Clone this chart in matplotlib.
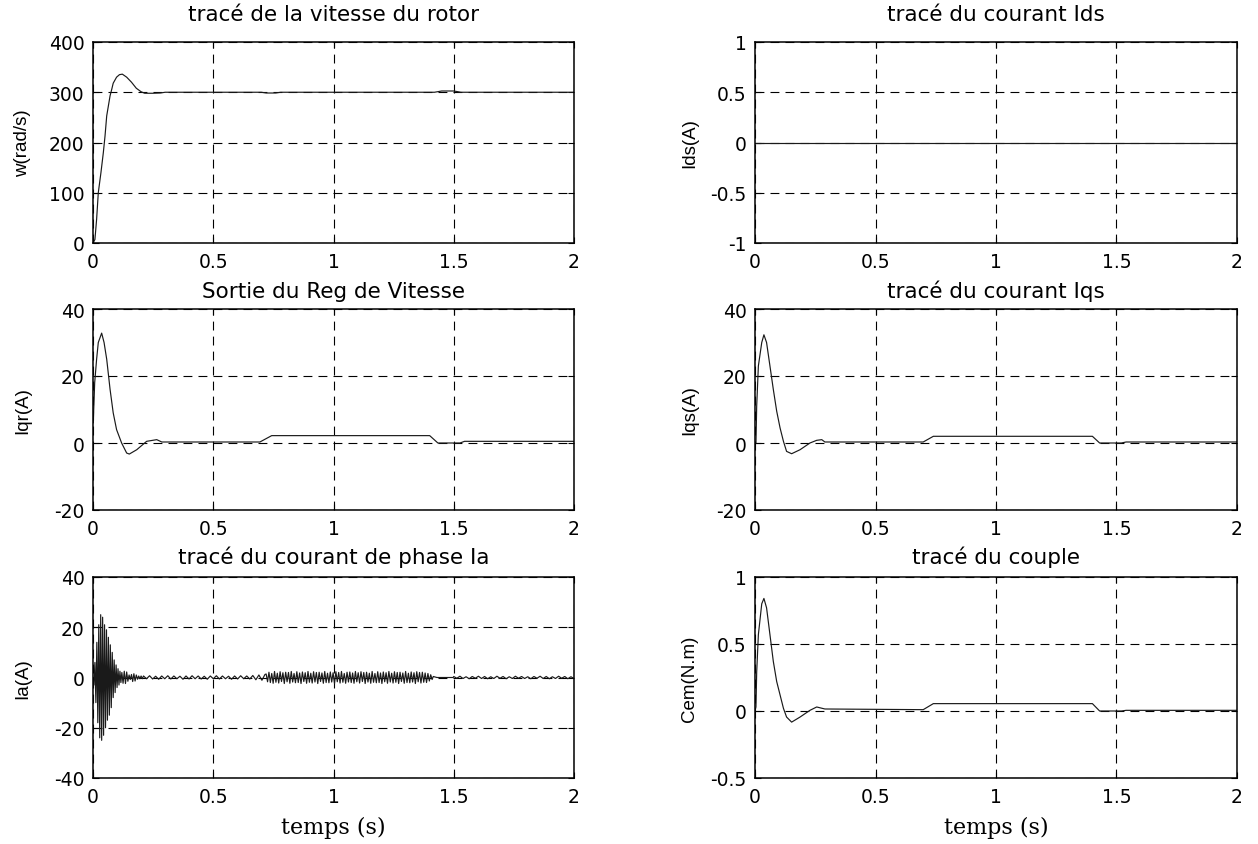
import numpy as np
import matplotlib
matplotlib.use('Agg')
import matplotlib.pyplot as plt

plt.rcParams['font.family'] = ['DejaVu Sans']
plt.rcParams['axes.unicode_minus'] = False

# ---------------- data ----------------
w_t = [0, 0.008, 0.015, 0.022, 0.033, 0.043, 0.050, 0.057, 0.064, 0.071, 0.078, 0.084,
       0.098, 0.110, 0.122, 0.140, 0.160, 0.180, 0.200, 0.215, 0.250, 0.280, 0.300,
       0.700, 0.720, 0.760, 0.780, 1.420, 1.450, 1.500, 1.530, 2.0]
w_v = [0, 7, 47, 100, 140, 180, 213, 253, 273, 293, 306, 318,
       330, 335, 336, 330, 320, 308, 301, 298, 298, 298.5, 300,
       300, 298.5, 298.5, 300, 300, 302.5, 302.5, 300, 300]

ids_t = [0, 2]
ids_v = [0, 0]

iqr_t = [0, 0.001, 0.007, 0.015, 0.022, 0.036, 0.046, 0.057, 0.071, 0.084, 0.098, 0.119,
         0.140, 0.151, 0.182, 0.223, 0.265, 0.286, 0.306, 0.694, 0.743, 1.400, 1.434,
         1.526, 1.545, 2.0]
iqr_v = [6, 6, 18, 25, 30, 32.8, 30, 25, 16, 9, 4, 0,
         -3, -3.3, -2, 0.5, 1.0, 0.3, 0.3, 0.3, 2.2, 2.2, 0,
         0, 0.5, 0.5]

iqs_t = [0, 0.004, 0.007, 0.014, 0.028, 0.037, 0.048, 0.062, 0.076, 0.090, 0.104, 0.118,
         0.131, 0.152, 0.187, 0.228, 0.256, 0.277, 0.290, 0.698, 0.740, 1.400, 1.430,
         1.520, 1.540, 2.0]
iqs_v = [0, 0, 11, 23, 30, 32.3, 30, 23, 16, 9.5, 4.5, 0.5,
         -2.5, -3.2, -2, 0, 0.8, 1.0, 0.3, 0.3, 2.0, 2.0, 0,
         0, 0.3, 0.3]

cem_t = [0, 0.004, 0.007, 0.014, 0.028, 0.037, 0.048, 0.062, 0.076, 0.090, 0.104, 0.118,
         0.131, 0.152, 0.187, 0.228, 0.256, 0.290, 0.698, 0.740, 1.400, 1.430, 1.520,
         1.540, 2.0]
cem_v = [0, 0.03, 0.29, 0.57, 0.80, 0.84, 0.77, 0.57, 0.37, 0.22, 0.12, 0.02,
         -0.045, -0.083, -0.045, 0.005, 0.03, 0.015, 0.01, 0.055, 0.055, 0.0, 0.0,
         0.005, 0.005]

# phase current Ia : successive peak values of each segment (segment start, end)
ia_start_span = (0.0, 0.116)
ia_start_vals = [0, -3, 6, -10, 14, -18, 21, -24, 25, -25, 24, -23, 21, -20, 19, -17,
                 16, -15, 13, -12, 10, -8, 7, -6, 5, -4, 3.5, -3, 2.5, -2]
ia_blob_span = (0.120, 0.205)
ia_blob_vals = [2, -2.3, 2.5, -2.4, 2.2, -1.5, 1.0, -0.8, 1.2, -1.6, 1.5, -1.4, 1.0,
                -0.7, 0.6, -0.5, 0.6, -0.5]
ia_low_span = (0.210, 0.715)
ia_low_vals = [0.6, -0.5, 0.7, -0.6, 0.5, -0.7, 0.6, -0.5, 0.7, -0.6, 0.6, -0.5, 0.5,
               -0.7, 0.6, -0.6, 0.7, -0.5, 0.6, -0.6, 0.5, -0.7, 0.6, -0.5, 0.7, -0.6,
               0.6, -0.5, 0.5, -0.7, 0.6, -0.6, 0.7, -0.5, 0.6, -0.6, 0.8, -0.9, 1.0,
               -1.1, 1.2]
ia_mid_span = (0.720, 1.410)
ia_mid_vals = [1.4, -1.7, 2.1, -2.0, 1.6, -2.3, 2.4, -1.9, 1.7, -2.2,
               2.3, -1.6, 1.9, -2.4, 2.1, -1.7, 2.0, -2.3, 2.4, -1.8,
               1.6, -2.1, 2.3, -2.0, 1.8, -2.4, 2.2, -1.6, 1.9, -2.3,
               2.4, -1.9, 1.7, -2.2, 2.3, -1.8, 2.0, -2.4, 2.1, -1.6,
               1.8, -2.3, 2.4, -2.0, 1.7, -2.1, 2.2, -1.8, 1.9, -2.4,
               2.3, -1.7, 2.0, -2.2, 2.4, -1.9, 1.6, -2.3, 2.1, -1.8,
               2.2, -2.0, 1.8, -2.3, 2.4, -1.7, 1.9, -2.2, 2.3, -1.6,
               2.0, -2.4, 2.1, -1.8, 1.7, -2.3, 2.4, -1.9, 1.6, -2.1,
               2.3, -2.0, 1.8, -2.4, 2.2, -1.7, 1.9, -2.3, 2.4, -1.8,
               1.7, -2.2, 2.3, -1.9, 2.0, -2.4, 2.1, -1.6, 1.8, -2.3,
               2.4, -2.0, 1.7, -2.1, 2.2, -1.8, 1.9, -2.4, 2.3, -1.7,
               2.0, -2.2, 2.1, -1.9, 1.8, -2.0, 1.6, -1.4, 1.1, -0.8]
ia_flat_t = [1.415, 1.430, 1.498]
ia_flat_v = [0.4, 0.0, 0.0]
ia_tail_span = (1.500, 2.0)
ia_tail_vals = [0.4, -0.3, 0.5, -0.4, 0.3, -0.5, 0.4, -0.3, 0.5, -0.4, 0.4, -0.5, 0.3,
                -0.4, 0.5, -0.3, 0.4, -0.5, 0.3, -0.4, 0.5, -0.3, 0.4, -0.4, 0.3, -0.5,
                0.4, -0.3, 0.5, -0.4, 0.4, -0.5, 0.3, -0.4, 0.5, -0.3, 0.4, -0.5, 0.3,
                -0.4]

titles = ['tracé de la vitesse du rotor', 'tracé du courant Ids',
          'Sortie du Reg de Vitesse', 'tracé du courant Iqs',
          'tracé du courant de phase Ia', 'tracé du couple']
ylabels = ['w(rad/s)', 'Ids(A)', 'Iqr(A)', 'Iqs(A)', 'Ia(A)', 'Cem(N.m)']
yticks = [[0, 100, 200, 300, 400], [-1, -0.5, 0, 0.5, 1], [-20, 0, 20, 40],
          [-20, 0, 20, 40], [-40, -20, 0, 20, 40], [-0.5, 0, 0.5, 1]]
xticks = [0, 0.5, 1, 1.5, 2]
xlabel = 'temps (s)'

# ---------------- build Ia ----------------
ia_t, ia_v = [], []
for span, vals in [(ia_start_span, ia_start_vals), (ia_blob_span, ia_blob_vals),
                   (ia_low_span, ia_low_vals), (ia_mid_span, ia_mid_vals)]:
    ia_t += list(np.linspace(span[0], span[1], len(vals)))
    ia_v += vals
ia_t += ia_flat_t
ia_v += ia_flat_v
ia_t += list(np.linspace(ia_tail_span[0], ia_tail_span[1], len(ia_tail_vals)))
ia_v += ia_tail_vals

series = [(w_t, w_v), (ids_t, ids_v), (iqr_t, iqr_v), (iqs_t, iqs_v),
          (ia_t, ia_v), (cem_t, cem_v)]

# ---------------- figure ----------------
W, H = 1258, 845
fig = plt.figure(figsize=(W / 100, H / 100), dpi=100)

lefts = [93, 755]
widths = [481, 482]
tops = [43, 310, 578]
height = 201
title_pads = [16, 9, 10]
ylabel_x = [-0.128, -0.118]

for i in range(6):
    r, c = divmod(i, 2)
    ax = fig.add_axes([lefts[c] / W, 1 - (tops[r] + height) / H, widths[c] / W, height / H])
    t, v = series[i]
    ax.plot(t, v, color='#1a1a1a', lw=0.85)
    ax.set_xlim(0, 2)
    ax.set_ylim(yticks[i][0], yticks[i][-1])
    ax.set_xticks(xticks)
    ax.set_xticklabels(['0', '0.5', '1', '1.5', '2'])
    ax.set_yticks(yticks[i])
    ax.set_yticklabels([('%g' % y) for y in yticks[i]])
    ax.grid(True, color='black', linestyle=(0, (8, 5.5)), linewidth=0.8)
    ax.tick_params(direction='in', top=True, right=True, length=4, width=0.8,
                   labelsize=13.5, colors='black')
    ax.tick_params(axis='x', pad=6.5)
    ax.tick_params(axis='y', pad=6)
    for s in ax.spines.values():
        s.set_linewidth(1.1)
    ax.set_title(titles[i], fontsize=15.5, pad=title_pads[r])
    ax.set_ylabel(ylabels[i], fontsize=13.5, family=['Liberation Sans', 'DejaVu Sans'])
    ax.yaxis.set_label_coords(ylabel_x[c], 0.5)
    if r == 2:
        ax.set_xlabel(xlabel, fontsize=16, family=['DejaVu Serif'], labelpad=7)

fig.savefig('out.png', dpi=100)
